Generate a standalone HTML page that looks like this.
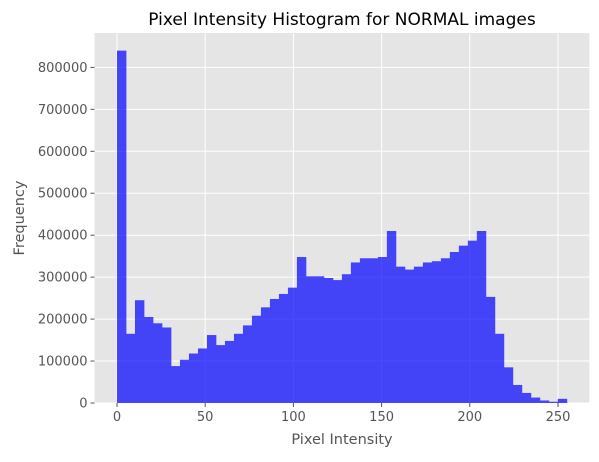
<!DOCTYPE html>
<html><head><meta charset="utf-8"><style>
body{margin:0;background:#fff;}
svg text{font-family:"DejaVu Sans","Liberation Sans",sans-serif;}
</style></head><body>
<svg id="chart" width="599" height="457" xmlns="http://www.w3.org/2000/svg">
<rect width="599" height="457" fill="#fff"/>
<rect x="94.5" y="33" width="494.8" height="370" fill="#E5E5E5"/>
<g id="grid"></g>
<g id="bars" opacity="0.7"></g>
<g id="ticks"></g>
<text x="342" y="25" font-size="17" text-anchor="middle" fill="#000">Pixel Intensity Histogram for NORMAL images</text>
<text x="342" y="444" font-size="14.5" text-anchor="middle" fill="#555">Pixel Intensity</text>
<text x="24" y="218" font-size="14.5" text-anchor="middle" fill="#555" transform="rotate(-90 24 218)">Frequency</text>
</svg>
<script>
const counts=[840000,165000,245000,205000,190000,180000,88000,103000,118000,130000,162000,138000,148000,165000,185000,208000,228000,248000,260000,275000,348000,302000,302000,298000,293000,307000,335000,345000,345000,348000,410000,325000,318000,325000,335000,338000,345000,360000,375000,387000,410000,253000,165000,85000,43000,24000,13000,6000,3000,10000];
const binStart=0, binEnd=255;
const xTicks=[0,50,100,150,200,250];
const yTicks=[0,100000,200000,300000,400000,500000,600000,700000,800000];
const NS="http://www.w3.org/2000/svg";
const L=94.5,R=589.3,T=33,B=403;
const xmin=-12.75,xmax=267.75,ymin=0,ymax=Math.max(...counts)*1.05;
const xs=v=>L+(v-xmin)/(xmax-xmin)*(R-L);
const ys=v=>B-(v-ymin)/(ymax-ymin)*(B-T);
function mk(tag,attrs,parent){const e=document.createElementNS(NS,tag);for(const k in attrs)e.setAttribute(k,attrs[k]);parent.appendChild(e);return e;}
const grid=document.getElementById('grid'),bars=document.getElementById('bars'),ticks=document.getElementById('ticks');
xTicks.forEach(t=>{
 const g=mk('line',{x1:xs(t),x2:xs(t),y1:T,y2:B,stroke:'#fff','stroke-width':1},grid);
 
 
 mk('line',{x1:xs(t),x2:xs(t),y1:B,y2:B+4,stroke:'#555'},ticks);
 const tx=mk('text',{x:xs(t),y:B+18,'font-size':13,'text-anchor':'middle',fill:'#555'},ticks);
 tx.textContent=t;
 
 
});
yTicks.forEach(t=>{
 const g=mk('line',{x1:L,x2:R,y1:ys(t),y2:ys(t),stroke:'#fff','stroke-width':1},grid);
 
 
 mk('line',{x1:L-4,x2:L,y1:ys(t),y2:ys(t),stroke:'#555'},ticks);
 const tx=mk('text',{x:L-7,y:ys(t)+4.5,'font-size':13,'text-anchor':'end',fill:'#555'},ticks);
 tx.textContent=t;
 
 
});
const w=(binEnd-binStart)/counts.length;
counts.forEach((c,i)=>{
 const x0=xs(binStart+i*w),x1=xs(binStart+(i+1)*w);
 const r=mk('rect',{x:x0,y:ys(c),width:x1-x0+0.4,height:ys(0)-ys(c),fill:'#0000ff'},bars);
 
 
});
</script>
</body></html>
